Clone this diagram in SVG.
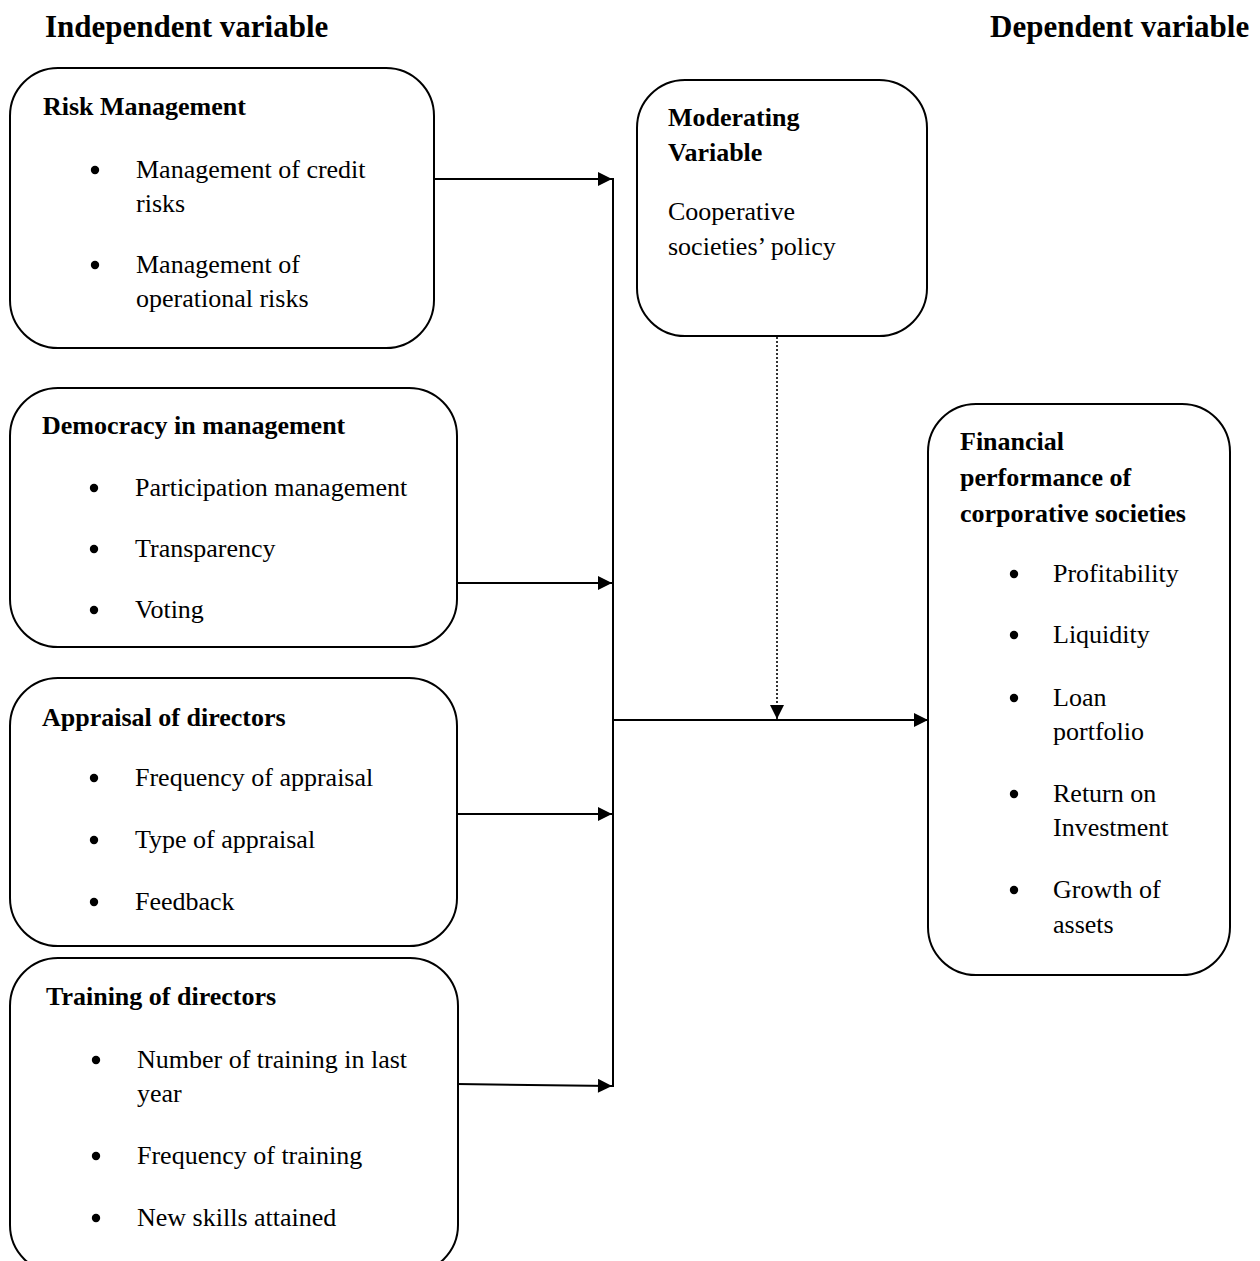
<svg xmlns="http://www.w3.org/2000/svg" width="1260" height="1261" viewBox="0 0 1260 1261">
<style>
.box{fill:#fff;stroke:#000;stroke-width:2}
text{font-family:"Liberation Serif","Times New Roman",serif;fill:#000}
.t{font-size:26px}
.h{font-size:26px;font-weight:bold}
.title{font-size:31px;font-weight:bold}
.c{stroke:#000;stroke-width:2;fill:none}
.d{stroke:#000;stroke-width:1.6;fill:none;stroke-dasharray:2 2}
</style>
<defs>
<marker id="ah" viewBox="0 0 10 10" refX="10" refY="5" markerWidth="15" markerHeight="14" markerUnits="userSpaceOnUse" orient="auto">
<path d="M0,0 L10,5 L0,10 z" fill="#000"/>
</marker>
<circle id="b" r="4.2" fill="#000"/>
</defs>
<rect width="1260" height="1261" fill="#fff"/>
<text class="title" x="45" y="37">Independent variable</text>
<text class="title" x="990" y="37">Dependent variable</text>

<g id="connectors">
<line class="c" x1="434" y1="179" x2="612" y2="179" marker-end="url(#ah)"/>
<line class="c" x1="457" y1="583" x2="612" y2="583" marker-end="url(#ah)"/>
<line class="c" x1="457" y1="814" x2="612" y2="814" marker-end="url(#ah)"/>
<line class="c" x1="457" y1="1084" x2="612" y2="1086" marker-end="url(#ah)"/>
<line class="c" x1="613" y1="178" x2="613" y2="1087"/>
<line class="c" x1="613" y1="720" x2="928" y2="720" marker-end="url(#ah)"/>
<line class="d" x1="777" y1="337" x2="777" y2="719" marker-end="url(#ah)"/>
</g>

<g id="risk">
<rect class="box" x="10" y="68" width="424" height="280" rx="48"/>
<text class="h" x="43" y="115">Risk Management</text>
<use href="#b" x="95" y="170"/>
<text class="t" x="136" y="178">Management of credit</text>
<text class="t" x="136" y="212">risks</text>
<use href="#b" x="95" y="265"/>
<text class="t" x="136" y="273">Management of</text>
<text class="t" x="136" y="307">operational risks</text>
</g>

<g id="democracy">
<rect class="box" x="10" y="388" width="447" height="259" rx="48"/>
<text class="h" x="42" y="434">Democracy in management</text>
<use href="#b" x="94" y="488"/>
<text class="t" x="135" y="496">Participation management</text>
<use href="#b" x="94" y="549"/>
<text class="t" x="135" y="557">Transparency</text>
<use href="#b" x="94" y="610"/>
<text class="t" x="135" y="618">Voting</text>
</g>

<g id="appraisal">
<rect class="box" x="10" y="678" width="447" height="268" rx="48"/>
<text class="h" x="42" y="726">Appraisal of directors</text>
<use href="#b" x="94" y="778"/>
<text class="t" x="135" y="786">Frequency of appraisal</text>
<use href="#b" x="94" y="840"/>
<text class="t" x="135" y="848">Type of appraisal</text>
<use href="#b" x="94" y="902"/>
<text class="t" x="135" y="910">Feedback</text>
</g>

<g id="training">
<rect class="box" x="10" y="958" width="448" height="315" rx="48"/>
<text class="h" x="46" y="1005">Training of directors</text>
<use href="#b" x="96" y="1060"/>
<text class="t" x="137" y="1068">Number of training in last</text>
<text class="t" x="137" y="1102">year</text>
<use href="#b" x="96" y="1156"/>
<text class="t" x="137" y="1164">Frequency of training</text>
<use href="#b" x="96" y="1218"/>
<text class="t" x="137" y="1226">New skills attained</text>
</g>

<g id="moderating">
<rect class="box" x="637" y="80" width="290" height="256" rx="48"/>
<text class="h" x="668" y="126">Moderating</text>
<text class="h" x="668" y="161">Variable</text>
<text class="t" x="668" y="220">Cooperative</text>
<text class="t" x="668" y="255">societies’ policy</text>
</g>

<g id="financial">
<rect class="box" x="928" y="404" width="302" height="571" rx="48"/>
<text class="h" x="960" y="450">Financial</text>
<text class="h" x="960" y="486">performance of</text>
<text class="h" x="960" y="522">corporative societies</text>
<use href="#b" x="1014" y="574"/>
<text class="t" x="1053" y="582">Profitability</text>
<use href="#b" x="1014" y="635"/>
<text class="t" x="1053" y="643">Liquidity</text>
<use href="#b" x="1014" y="698"/>
<text class="t" x="1053" y="706">Loan</text>
<text class="t" x="1053" y="740">portfolio</text>
<use href="#b" x="1014" y="794"/>
<text class="t" x="1053" y="802">Return on</text>
<text class="t" x="1053" y="836">Investment</text>
<use href="#b" x="1014" y="890"/>
<text class="t" x="1053" y="898">Growth of</text>
<text class="t" x="1053" y="933">assets</text>
</g>
</svg>
